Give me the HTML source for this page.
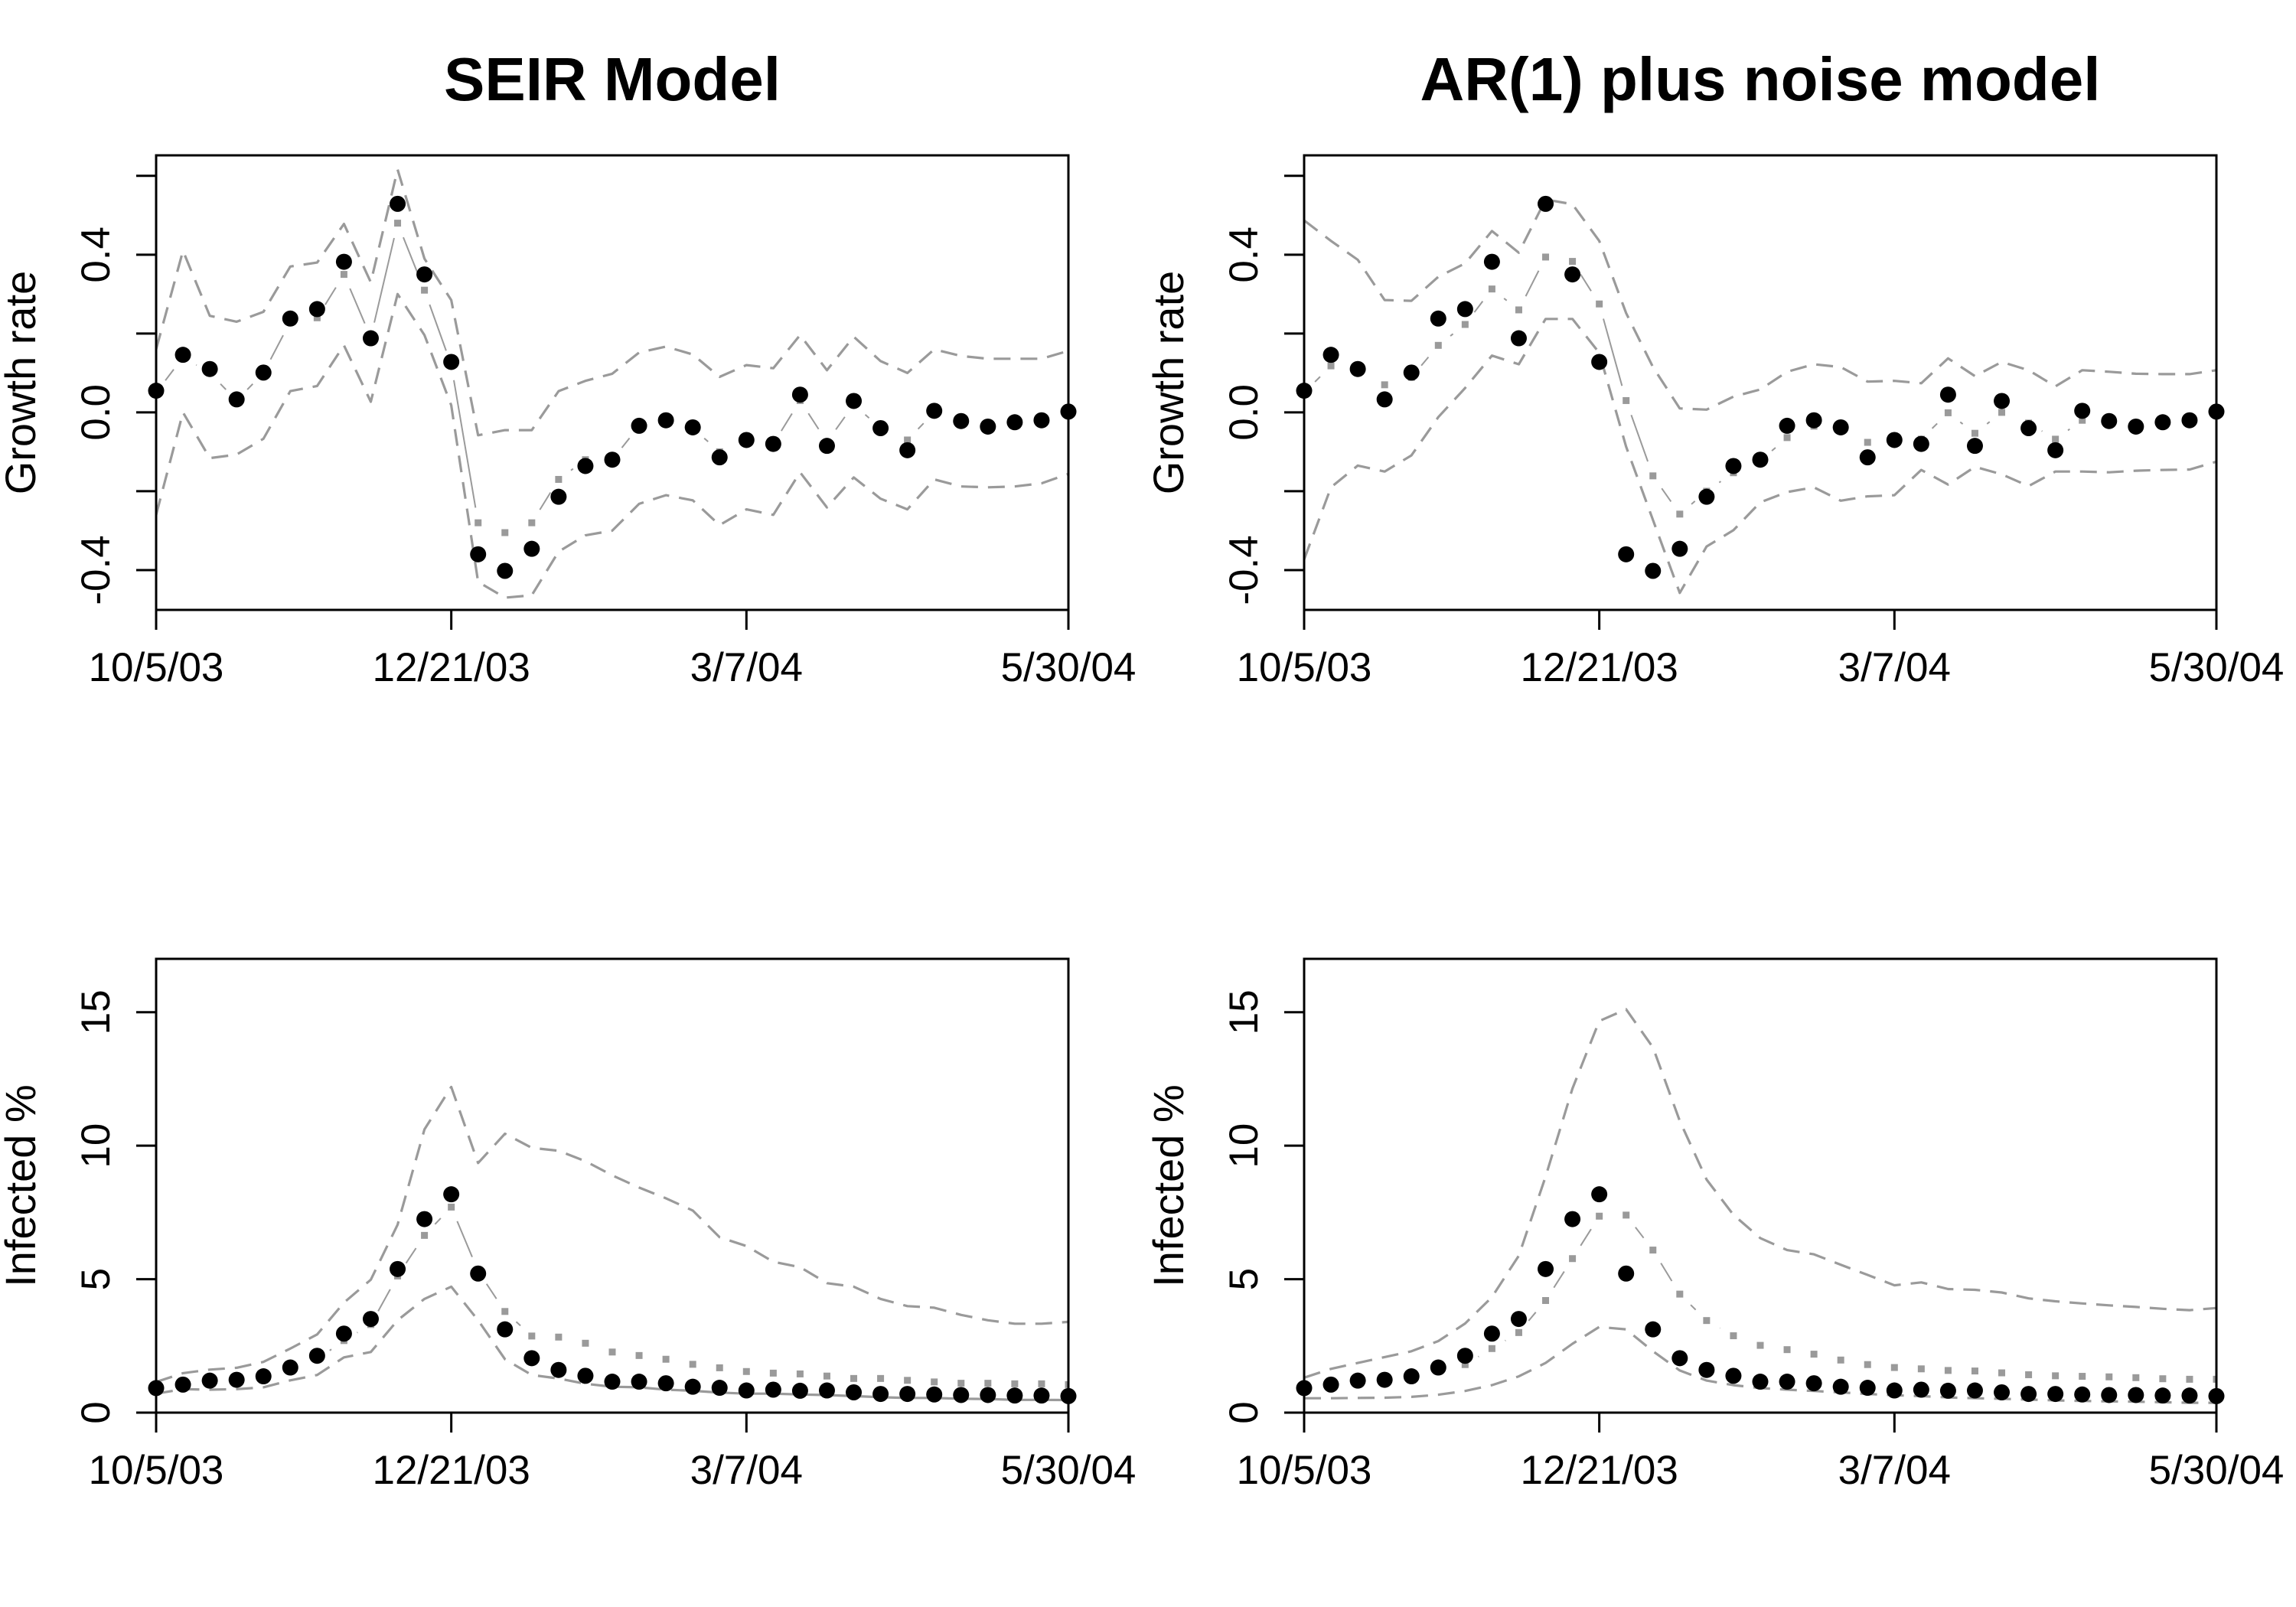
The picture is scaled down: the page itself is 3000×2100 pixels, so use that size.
<!DOCTYPE html>
<html><head><meta charset="utf-8"><title>SEIR vs AR(1) plus noise model</title>
<style>
html,body{margin:0;padding:0;background:#fff;}
svg{display:block;}
text{font-family:"Liberation Sans",Arial,sans-serif;fill:#000;}
</style></head>
<body>
<svg id="chart" width="3000" height="2100" viewBox="0 0 3000 2100" xmlns="http://www.w3.org/2000/svg">
<rect x="0" y="0" width="3000" height="2100" fill="#fff"/>
<text x="800" y="131" font-size="80" font-weight="bold" text-anchor="middle">SEIR Model</text>
<text x="2300" y="131" font-size="80" font-weight="bold" text-anchor="middle">AR(1) plus noise model</text>
</svg>
<script>
const xTickIdx = [0, 11, 22, 34];
const xTickLabels = ["10/5/03", "12/21/03", "3/7/04", "5/30/04"];
const growthTicks = [-0.4, -0.2, 0.0, 0.2, 0.4, 0.6];
const growthTickLabels = ["-0.4", "", "0.0", "", "0.4", ""];
const infTicks = [0, 5, 10, 15];
const infTickLabels = ["0", "5", "10", "15"];

const observedGrowth = [0.055,0.146,0.110,0.033,0.101,0.238,0.262,0.382,0.188,0.529,0.350,0.128,-0.360,-0.402,-0.346,-0.214,-0.136,-0.120,-0.034,-0.020,-0.038,-0.114,-0.070,-0.080,0.045,-0.085,0.029,-0.040,-0.096,0.004,-0.022,-0.036,-0.025,-0.020,0.002];
const seirGrowthMedian = [0.05,0.14,0.10,0.03,0.10,0.23,0.24,0.35,0.19,0.48,0.31,0.12,-0.28,-0.305,-0.28,-0.17,-0.12,-0.12,-0.035,-0.02,-0.04,-0.10,-0.07,-0.08,0.03,-0.075,0.02,-0.04,-0.07,0.0,-0.02,-0.035,-0.025,-0.02,0.0];
const seirGrowthUpper = [0.16,0.41,0.245,0.23,0.255,0.37,0.38,0.478,0.33,0.616,0.39,0.285,-0.058,-0.045,-0.045,0.054,0.08,0.098,0.152,0.167,0.147,0.09,0.12,0.112,0.196,0.107,0.192,0.13,0.10,0.16,0.143,0.136,0.136,0.136,0.156];
const seirGrowthLower = [-0.26,0.0,-0.116,-0.107,-0.067,0.054,0.067,0.17,0.027,0.30,0.196,0.018,-0.43,-0.47,-0.464,-0.353,-0.312,-0.30,-0.232,-0.21,-0.223,-0.286,-0.246,-0.26,-0.152,-0.241,-0.165,-0.219,-0.246,-0.17,-0.188,-0.19,-0.188,-0.18,-0.156];
const arGrowthMedian = [0.05,0.118,0.10,0.07,0.089,0.17,0.223,0.313,0.26,0.394,0.383,0.275,0.03,-0.161,-0.258,-0.20,-0.153,-0.123,-0.064,-0.035,-0.04,-0.076,-0.07,-0.068,-0.001,-0.053,0.0,-0.027,-0.068,-0.02,-0.024,-0.035,-0.024,-0.022,0.002];
const arGrowthUpper = [0.487,0.435,0.387,0.285,0.283,0.344,0.378,0.46,0.405,0.54,0.528,0.435,0.252,0.115,0.01,0.007,0.04,0.058,0.103,0.122,0.115,0.078,0.08,0.074,0.137,0.092,0.128,0.107,0.066,0.107,0.103,0.098,0.097,0.097,0.107];
const arGrowthLower = [-0.373,-0.19,-0.135,-0.15,-0.109,-0.012,0.062,0.144,0.122,0.237,0.237,0.151,-0.087,-0.273,-0.458,-0.34,-0.299,-0.228,-0.202,-0.19,-0.224,-0.213,-0.21,-0.146,-0.183,-0.138,-0.157,-0.187,-0.15,-0.15,-0.152,-0.148,-0.146,-0.145,-0.125];

const observedInfected = [0.92,1.05,1.2,1.23,1.36,1.69,2.13,2.96,3.51,5.38,7.25,8.18,5.21,3.12,2.04,1.6,1.38,1.16,1.16,1.1,0.97,0.93,0.83,0.86,0.82,0.83,0.76,0.70,0.70,0.68,0.66,0.66,0.64,0.64,0.62];
const seirInfMedian = [1.0,1.1,1.2,1.25,1.35,1.6,2.0,2.7,3.3,5.12,6.64,7.7,5.3,3.79,2.87,2.83,2.6,2.27,2.14,2.0,1.81,1.68,1.54,1.48,1.45,1.37,1.28,1.28,1.21,1.15,1.1,1.1,1.08,1.08,1.05];
const seirInfUpper = [1.15,1.48,1.61,1.68,1.9,2.4,2.93,4.12,4.98,7.04,10.61,12.2,9.35,10.45,9.92,9.81,9.42,8.89,8.43,8.03,7.57,6.57,6.24,5.65,5.45,4.85,4.72,4.26,3.99,3.93,3.66,3.46,3.33,3.33,3.4];
const seirInfLower = [0.71,0.88,0.86,0.88,0.95,1.21,1.41,2.07,2.27,3.46,4.26,4.72,3.46,2.0,1.41,1.28,1.08,0.97,0.95,0.86,0.82,0.75,0.71,0.71,0.68,0.66,0.62,0.58,0.55,0.55,0.52,0.51,0.48,0.48,0.47];
const arInfMedian = [0.95,1.05,1.15,1.2,1.3,1.6,1.8,2.4,3.0,4.2,5.77,7.36,7.4,6.09,4.44,3.45,2.88,2.52,2.36,2.19,1.97,1.80,1.69,1.64,1.58,1.56,1.49,1.42,1.38,1.36,1.34,1.31,1.27,1.25,1.25];
const arInfUpper = [1.31,1.64,1.86,2.08,2.3,2.68,3.34,4.33,5.88,8.84,12.14,14.67,15.11,13.68,10.93,8.73,7.41,6.54,6.09,5.93,5.54,5.16,4.77,4.88,4.63,4.6,4.5,4.28,4.17,4.09,4.02,3.96,3.89,3.84,3.92];
const arInfLower = [0.54,0.54,0.55,0.56,0.59,0.67,0.81,1.03,1.36,1.86,2.58,3.21,3.12,2.3,1.58,1.2,1.03,0.92,0.86,0.81,0.76,0.70,0.65,0.62,0.57,0.54,0.52,0.49,0.46,0.44,0.42,0.41,0.39,0.37,0.37];

const NS = "http://www.w3.org/2000/svg";
const svg = document.getElementById("chart");
const nWeeks = observedGrowth.length;

function mk(tag, attrs, parent) {
  const e = document.createElementNS(NS, tag);
  for (const k in attrs) e.setAttribute(k, attrs[k]);
  (parent || svg).appendChild(e);
  return e;
}

function drawPanel(p) {
  const g = mk("g", {});
  
  
  const xs = i => p.x0 + (p.x1 - p.x0) * i / (nWeeks - 1);
  const ys = v => p.y1 - (v - p.ymin) / (p.ymax - p.ymin) * (p.y1 - p.y0);

  const clipId = p.name + "-clip";
  const cp = mk("clipPath", {id: clipId}, g);
  mk("rect", {x: p.x0, y: p.y0, width: p.x1 - p.x0, height: p.y1 - p.y0}, cp);
  const plot = mk("g", {"clip-path": "url(#" + clipId + ")"}, g);

  [[p.upper, "upper-interval-line"], [p.lower, "lower-interval-line"]].forEach(([arr, nm]) => {
    const pts = arr.map((v, i) => xs(i).toFixed(1) + "," + ys(v).toFixed(1)).join(" ");
    const pl = mk("polyline", {points: pts, fill: "none", stroke: "#9a9a9a", "stroke-width": 3.2, "stroke-dasharray": "22 13", "stroke-linejoin": "round"}, plot);
    
    
  });

  const mg = mk("g", {}, plot);
  
  
  const gap = 20;
  for (let i = 0; i < nWeeks - 1; i++) {
    const xa = xs(i), ya = ys(p.median[i]), xb = xs(i + 1), yb = ys(p.median[i + 1]);
    const L = Math.hypot(xb - xa, yb - ya);
    if (L <= 2 * gap) continue;
    const ux = (xb - xa) / L, uy = (yb - ya) / L;
    const seg = mk("line", {x1: xa + ux * gap, y1: ya + uy * gap, x2: xb - ux * gap, y2: yb - uy * gap, stroke: "#9a9a9a", "stroke-width": 2}, mg);
    
    
  }
  p.median.forEach((v, i) => {
    const r = mk("rect", {x: xs(i) - 4.5, y: ys(v) - 4.5, width: 9, height: 9, fill: "#9a9a9a"}, mg);
    
    
  });

  const og = mk("g", {}, g);
  
  
  p.obs.forEach((v, i) => {
    const c = mk("circle", {cx: xs(i), cy: ys(v), r: 10.5, fill: "#000"}, og);
    
    
  });

  const box = mk("rect", {x: p.x0, y: p.y0, width: p.x1 - p.x0, height: p.y1 - p.y0, fill: "none", stroke: "#000", "stroke-width": 3}, g);
  
  

  const xa = mk("g", {}, g);
  
  
  xTickIdx.forEach((ix, k) => {
    const x = xs(ix);
    const t = mk("line", {x1: x, y1: p.y1, x2: x, y2: p.y1 + 26, stroke: "#000", "stroke-width": 3}, xa);
    
    
    const tx = mk("text", {x: x, y: p.y1 + 93, "font-size": 53, "text-anchor": "middle"}, xa);
    tx.textContent = xTickLabels[k];
    
    
  });

  const ya = mk("g", {}, g);
  
  
  p.ticks.forEach((v, k) => {
    const y = ys(v);
    const t = mk("line", {x1: p.x0 - 26, y1: y, x2: p.x0, y2: y, stroke: "#000", "stroke-width": 3}, ya);
    
    
    if (p.tickLabels[k]) {
      const lx = p.x0 - 61;
      const tx = mk("text", {x: lx, y: y, "font-size": 53, "text-anchor": "middle", transform: "rotate(-90 " + lx + " " + y + ")"}, ya);
      tx.textContent = p.tickLabels[k];
      
      
    }
  });
  const cy = (p.y0 + p.y1) / 2, tx0 = p.x0 - 158;
  const yt = mk("text", {x: tx0, y: cy, "font-size": 56, "text-anchor": "middle", transform: "rotate(-90 " + tx0 + " " + cy + ")"}, g);
  yt.textContent = p.ylab;
  
  
}

const topY = {y0: 203, y1: 797, ymin: -0.501, ymax: 0.652, ticks: growthTicks, tickLabels: growthTickLabels, ylab: "Growth rate", obs: observedGrowth};
const botY = {y0: 1253, y1: 1846, ymin: 0, ymax: 17.0, ticks: infTicks, tickLabels: infTickLabels, ylab: "Infected %", obs: observedInfected};

drawPanel(Object.assign({}, topY, {name: "seir-growth-panel", x0: 204, x1: 1396, median: seirGrowthMedian, upper: seirGrowthUpper, lower: seirGrowthLower}));
drawPanel(Object.assign({}, topY, {name: "ar1-growth-panel", x0: 1704, x1: 2896, median: arGrowthMedian, upper: arGrowthUpper, lower: arGrowthLower}));
drawPanel(Object.assign({}, botY, {name: "seir-infected-panel", x0: 204, x1: 1396, median: seirInfMedian, upper: seirInfUpper, lower: seirInfLower}));
drawPanel(Object.assign({}, botY, {name: "ar1-infected-panel", x0: 1704, x1: 2896, median: arInfMedian, upper: arInfUpper, lower: arInfLower}));
</script>
</body></html>
